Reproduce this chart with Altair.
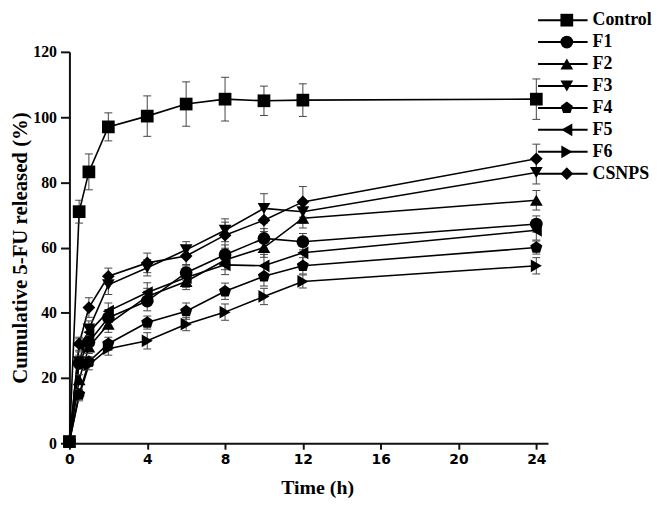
import altair as alt
import pandas as pd

# ---- data ----
times = [0, 0.5, 1, 2, 4, 6, 8, 10, 12, 24]
series_names = ["Control", "F1", "F2", "F3", "F4", "F5", "F6", "CSNPS"]

control = [0.5, 71.0, 83.2, 97.0, 100.3, 104.0, 105.5, 105.0, 105.2, 105.5]
f1 = [0.5, 24.5, 31.0, 38.5, 43.6, 52.3, 57.8, 62.8, 61.8, 67.2]
f2 = [0.5, 19.5, 29.5, 36.5, 45.0, 49.6, 56.2, 60.0, 69.0, 74.5]
f3 = [0.5, 25.0, 35.0, 48.6, 53.8, 59.3, 65.3, 72.0, 71.0, 83.0]
f4 = [0.5, 15.0, 25.0, 30.5, 37.0, 40.5, 46.6, 51.2, 54.4, 60.0]
f5 = [0.5, 30.0, 34.0, 40.5, 46.2, 50.8, 54.7, 54.4, 58.4, 65.3]
f6 = [0.5, 14.5, 24.0, 29.0, 31.4, 36.5, 40.2, 45.0, 49.6, 54.4]
csnps = [0.5, 30.5, 41.6, 51.2, 55.3, 57.4, 63.8, 68.4, 74.0, 87.2]

err_control = [0.3, 3.5, 5.5, 4.3, 6.2, 6.8, 6.7, 4.5, 5.0, 6.2]
err_f1 = [0.3, 1.5, 2.0, 2.5, 3.0, 2.5, 3.0, 3.0, 2.5, 2.5]
err_f2 = [0.3, 1.5, 2.0, 2.5, 2.5, 2.5, 3.0, 3.0, 3.0, 3.0]
err_f3 = [0.3, 2.0, 2.5, 3.0, 2.5, 2.5, 3.5, 4.5, 3.5, 3.5]
err_f4 = [0.3, 1.5, 1.5, 2.0, 2.0, 2.5, 2.5, 3.0, 2.5, 2.0]
err_f5 = [0.3, 2.0, 2.0, 2.5, 3.0, 3.0, 3.0, 3.5, 3.0, 3.0]
err_f6 = [0.3, 1.5, 1.5, 2.0, 2.5, 2.0, 2.5, 2.5, 2.0, 2.5]
err_csnps = [0.3, 2.0, 3.0, 2.5, 3.0, 3.0, 4.0, 3.5, 4.7, 4.5]

x_ticks = [0, 4, 8, 12, 16, 20, 24]
y_ticks = [0, 20, 40, 60, 80, 100, 120]

values = [control, f1, f2, f3, f4, f5, f6, csnps]
errors = [err_control, err_f1, err_f2, err_f3, err_f4, err_f5, err_f6, err_csnps]

rows = []
for name, vals, errs in zip(series_names, values, errors):
    for t, v, e in zip(times, vals, errs):
        rows.append({"series": name, "time": t, "value": v, "lo": v - e, "hi": v + e})
df = pd.DataFrame(rows)
legend_df = pd.DataFrame({"series": series_names})

# marker shapes
pentagon = "M0,-1L0.951,-0.309L0.588,0.809L-0.588,0.809L-0.951,-0.309Z"
plot_shapes = ["square", "circle", "triangle-up", "triangle-down", pentagon,
               "triangle-left", "triangle-right", "diamond"]
shape_scale = alt.Scale(domain=series_names, range=plot_shapes)

x_enc = alt.X("time:Q", scale=alt.Scale(domain=[0, 24.6], nice=False),
              axis=alt.Axis(values=x_ticks, title="Time (h)", format="d", titleX=250))
y_scale = alt.Scale(domain=[0, 120], nice=False)
y_enc = alt.Y("value:Q", scale=y_scale,
              axis=alt.Axis(values=y_ticks, title="Cumulative 5-FU released (%)"))

base = alt.Chart(df)

lines = base.mark_line(color="black", strokeWidth=1.6).encode(
    x=x_enc, y=y_enc, detail="series:N")

rules = base.mark_rule(color="#444", strokeWidth=1).encode(
    x="time:Q", y=alt.Y("lo:Q", scale=y_scale), y2="hi:Q")

cap_lo = base.mark_point(shape="stroke", size=64, color="#444", strokeWidth=1,
                         opacity=1).encode(x="time:Q", y=alt.Y("lo:Q", scale=y_scale))
cap_hi = base.mark_point(shape="stroke", size=64, color="#444", strokeWidth=1,
                         opacity=1).encode(x="time:Q", y=alt.Y("hi:Q", scale=y_scale))

points = base.mark_point(filled=True, color="black", opacity=1, size=165).encode(
    x="time:Q", y="value:Q",
    shape=alt.Shape("series:N", scale=shape_scale, legend=None))

main = alt.layer(lines, rules, cap_lo, cap_hi, points)

# ---- hand-built legend (line - marker - label), outside the plot at top right ----
leg_y = alt.Y("series:N", scale=alt.Scale(type="point", domain=series_names,
                                          range=[-32, 123], padding=0), axis=None)
lbase = alt.Chart(legend_df)
leg_line = lbase.mark_rule(color="black", strokeWidth=2).encode(
    x=alt.value(473), x2=alt.value(523), y=leg_y)
leg_pt = lbase.mark_point(filled=True, color="black", opacity=1, size=165).encode(
    x=alt.value(502), y=leg_y,
    shape=alt.Shape("series:N", scale=shape_scale, legend=None))
leg_txt = lbase.mark_text(align="left", baseline="middle", font="Liberation Serif",
                          fontWeight="bold", fontSize=18, color="black").encode(
    x=alt.value(528), y=leg_y, text="series:N")
legend = alt.layer(leg_line, leg_pt, leg_txt)

chart = alt.layer(main, legend).resolve_scale(y="independent").properties(
    width=483, height=395, autosize="none",
    padding={"left": 62, "top": 42, "right": 107, "bottom": 53},
).configure_view(stroke=None).configure_axis(
    grid=False, domainColor="#111", domainWidth=2, tickColor="#111", tickWidth=2,
    labelColor="black", titleColor="black", labelFlush=False,
    titleFont="Liberation Serif", titleFontWeight="bold", titleFontSize=20,
).configure_axisX(
    tickSize=6, labelFont="DejaVu Sans", labelFontWeight="bold", labelFontSize=14,
    labelPadding=3, titlePadding=12,
).configure_axisY(
    tickSize=9, labelFont="Liberation Serif", labelFontWeight="bold", labelFontSize=16,
    labelPadding=4, titlePadding=2, titleFontSize=21,
)

chart.save("out.html", embed_options={"renderer": "svg", "actions": False})
